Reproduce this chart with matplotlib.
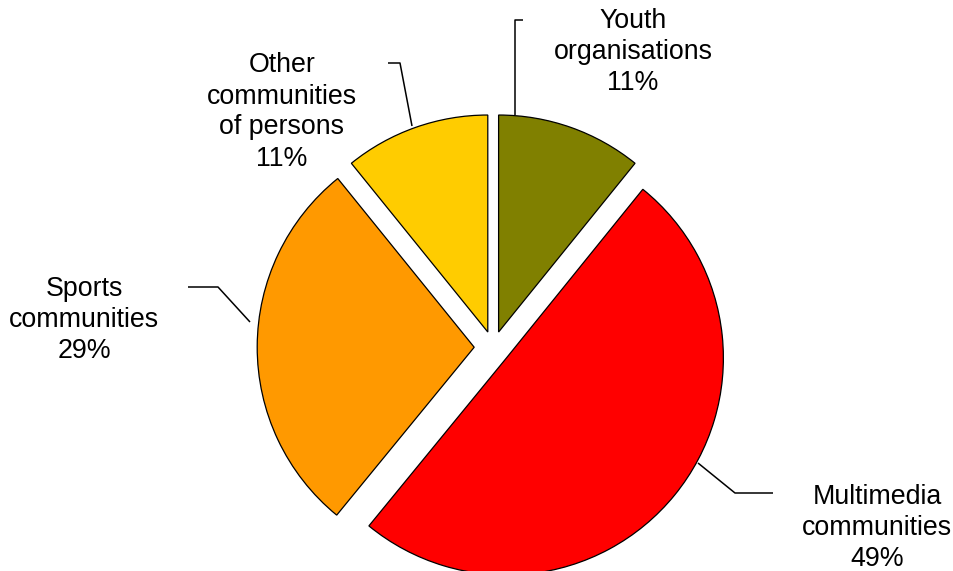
import matplotlib
matplotlib.use("Agg")
import matplotlib.pyplot as plt

# ---- data ----
categories = ["Youth\norganisations", "Multimedia\ncommunities", "Sports\ncommunities", "Other\ncommunities\nof persons"]
label_pcts = [11, 49, 29, 11]              # percentages as printed on the chart
wedge_shares = [10.8, 50.0, 28.2, 10.8]    # wedge sizes
colors = ["#808000", "#FF0000", "#FF9900", "#FFCC00"]

# ---- layout (pixel coordinates, y measured from top) ----
W, H = 954, 571
center_px = (493.2, 347.3)
radius = 217
explode_px = [16.2, 17.0, 19.0, 16.2]
label_pos = [(633, 52), (877, 528), (84, 320), (282, 112)]
leaders = [
    [(523, 20), (515, 20), (515, 115)],
    [(773, 493), (735, 493), (698, 463)],
    [(188, 287), (218, 287), (250, 322)],
    [(388, 63), (400, 63), (412, 126)],
]

plt.rcParams['font.family'] = ['Liberation Sans', 'DejaVu Sans']

fig = plt.figure(figsize=(W / 100, H / 100), dpi=100)
ax = fig.add_axes([0, 0, 1, 1])

ax.pie(wedge_shares, colors=colors, startangle=90, counterclock=False,
       explode=explode_px, radius=radius,
       center=(center_px[0], H - center_px[1]),
       wedgeprops=dict(edgecolor='black', linewidth=0.9),
       frame=True)
ax.set_xlim(0, W)
ax.set_ylim(0, H)
ax.set_aspect('equal')
ax.axis('off')

for cat, val, (lx, ly) in zip(categories, label_pcts, label_pos):
    ax.text(lx, H - ly, f"{cat}\n{val}%", ha='center', va='center',
            fontsize=19.3, linespacing=1.25, color='black')

for pts in leaders:
    xs = [p[0] for p in pts]
    ys = [H - p[1] for p in pts]
    ax.plot(xs, ys, color='black', linewidth=1.1, solid_capstyle='butt')

fig.savefig("out.png", dpi=100)
